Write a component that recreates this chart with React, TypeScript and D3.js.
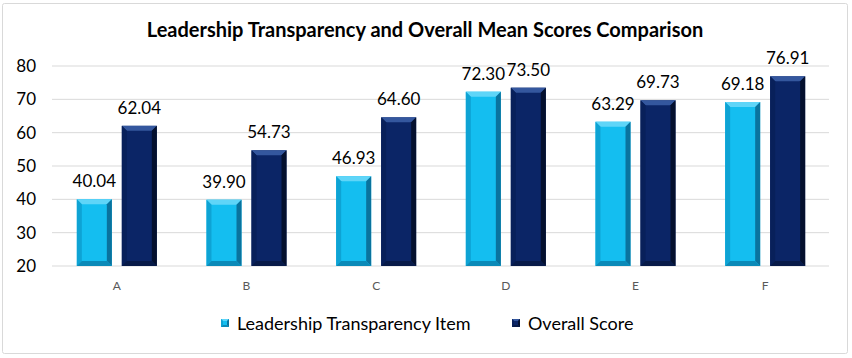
import React from "react";
import { scaleBand, scaleLinear } from "d3";

// data
const categories = ["A", "B", "C", "D", "E", "F"];
const seriesNames = ["Leadership Transparency Item", "Overall Score"];
const transparencyValues = [40.04, 39.9, 46.93, 72.3, 63.29, 69.18];
const overallValues = [62.04, 54.73, 64.6, 73.5, 69.73, 76.91];
const yTicks = [20, 30, 40, 50, 60, 70, 80];

const W = 852;
const H = 358;
const font = "Lato, 'Liberation Sans', sans-serif";

// face, top bevel, left, right, bottom
const palettes = [
  { face: "#14bef0", top: "#5fd5f8", left: "#0ea3d4", right: "#0a739e", bottom: "#0b8ab8" },
  { face: "#0b2566", top: "#34579e", left: "#08205a", right: "#04102e", bottom: "#071a48" },
];

const BevelBar = ({ x, y, w, h, p, b = 5 }) => {
  const bb = Math.min(b, h / 2);
  return (
    <g>
      <rect x={x} y={y} width={w} height={h} fill={p.face} />
      <polygon points={`${x},${y} ${x + w},${y} ${x + w - bb},${y + bb} ${x + bb},${y + bb}`} fill={p.top} />
      <polygon points={`${x},${y} ${x + bb},${y + bb} ${x + bb},${y + h - bb} ${x},${y + h}`} fill={p.left} />
      <polygon points={`${x + w},${y} ${x + w - bb},${y + bb} ${x + w - bb},${y + h - bb} ${x + w},${y + h}`} fill={p.right} />
      <polygon points={`${x},${y + h} ${x + bb},${y + h - bb} ${x + w - bb},${y + h - bb} ${x + w},${y + h}`} fill={p.bottom} />
    </g>
  );
};

const App = () => {
  const x0 = scaleBand().domain(categories).range([52, 830]);
  const bw = x0.bandwidth();
  const x1 = scaleBand()
    .domain(seriesNames)
    .range([bw / 2 - 40, bw / 2 + 40])
    .paddingInner(0.222);
  const y = scaleLinear().domain([20, 80]).range([266, 66]);
  const seriesValues = [transparencyValues, overallValues];

  return (
    <svg width={W} height={H} style={{ position: "fixed", left: 0, top: 0 }} fontFamily={font}>
      <rect x={0} y={0} width={W} height={H} fill="#fff" />
      <rect x={2.5} y={3.5} width={845} height={350} fill="none" stroke="#d9d9d9" strokeWidth={1} rx={2} />

      <text x={425} y={37} textAnchor="middle" fontSize={20} fontWeight={700} fill="#000">
        Leadership Transparency and Overall Mean Scores Comparison
      </text>

      {yTicks.map((t) => (
        <g key={t}>
          <line x1={52} x2={829} y1={y(t)} y2={y(t)} stroke="#d9d9d9" strokeWidth={1} />
          <text x={36} y={y(t) + 6} textAnchor="end" fontSize={17} fill="#000">
            {t}
          </text>
        </g>
      ))}

      {categories.map((c, i) => (
        <g key={c} transform={`translate(${x0(c)},0)`}>
          {seriesNames.map((s, j) => {
            const v = seriesValues[j][i];
            const bx = x1(s);
            const w = x1.bandwidth();
            return (
              <g key={s}>
                <BevelBar x={bx} y={y(v)} w={w} h={y(20) - y(v)} p={palettes[j]} />
                <text x={bx + w / 2} y={y(v) - 12} textAnchor="middle" fontSize={17} fill="#000">
                  {v.toFixed(2)}
                </text>
              </g>
            );
          })}
          <text x={bw / 2} y={290} textAnchor="middle" fontSize={12} fill="#595959">
            {c}
          </text>
        </g>
      ))}

      {/* legend */}
      {seriesNames.map((s, j) => {
        const lx = j === 0 ? 221 : 512;
        return (
          <g key={s}>
            <BevelBar x={lx} y={319} w={8} h={8} p={palettes[j]} b={2} />
            <text x={lx + 16} y={330} fontSize={18} fill="#000">
              {s}
            </text>
          </g>
        );
      })}
    </svg>
  );
};

export default App;
